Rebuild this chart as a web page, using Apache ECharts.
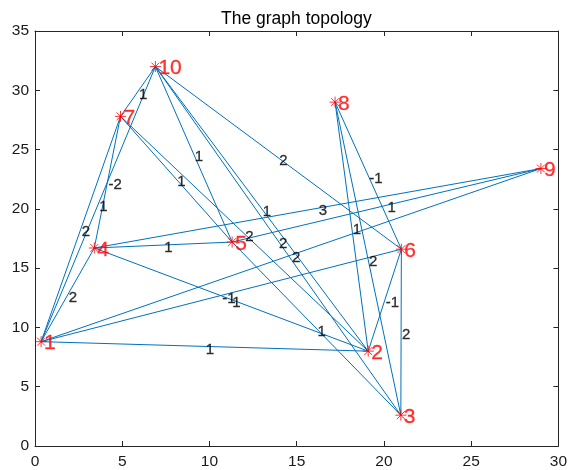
<!DOCTYPE html>
<html><head><meta charset="utf-8">
<script src="https://cdn.jsdelivr.net/npm/echarts@6/dist/echarts.min.js"></script>
<style>html,body{margin:0;padding:0;background:#fff}#c{width:570px;height:470px}</style>
</head><body><div id="c"></div>
<script>
const titleText = 'The graph topology';
const nodeNames = ['1','2','3','4','5','6','7','8','9','10'];
const nodeX = [0.35, 19.1, 20.97, 3.4, 11.3, 21.0, 4.9, 17.2, 29.0, 6.9];
const nodeY = [8.8, 8.0, 2.6, 16.7, 17.2, 16.6, 27.8, 29.0, 23.4, 32.0];
const edgeSource = [1,1,1,1,1,1,2,2,2,2,2,3,3,3,3,4,4,4,5,5,5,6,6,7];
const edgeTarget = [2,4,6,7,9,10,4,6,7,8,10,5,6,8,10,5,7,9,7,9,10,8,10,10];
const edgeWeight = [1,2,-1,2,2,1,1,-1,2,1,1,1,2,2,2,1,-2,3,1,1,1,-1,2,1];
const xTicks = [0,5,10,15,20,25,30];
const yTicks = [0,5,10,15,20,25,30,35];

const FONT = 'Liberation Sans, Arial, Helvetica, sans-serif';
const AX = '#262626';
const star = 'path://M0,-5L0,5M-5,0L5,0M-3.6,-3.6L3.6,3.6M-3.6,3.6L3.6,-3.6';

const edgeLines = edgeSource.map((s, i) => {
  const t = edgeTarget[i];
  return {coords: [[nodeX[s-1], nodeY[s-1]], [nodeX[t-1], nodeY[t-1]]]};
});
const edgeMid = edgeSource.map((s, i) => {
  const t = edgeTarget[i];
  return {value: [(nodeX[s-1] + nodeX[t-1]) / 2, (nodeY[s-1] + nodeY[t-1]) / 2], w: edgeWeight[i]};
});
const nodes = nodeNames.map((n, i) => ({value: [nodeX[i], nodeY[i]], name: n}));

const xStep = xTicks[1] - xTicks[0];
const yStep = yTicks[1] - yTicks[0];
function axisX(pos, showLabel) {
  return {
    type: 'value', position: pos, min: xTicks[0], max: xTicks[xTicks.length-1], interval: xStep,
    axisLine: {show: true, onZero: false, lineStyle: {color: AX, width: 1}},
    axisTick: {show: true, inside: true, length: 5, lineStyle: {color: AX}},
    axisLabel: {show: showLabel, color: '#1a1a1a', fontSize: 15.5, fontFamily: FONT, margin: 8},
    splitLine: {show: false}
  };
}
function axisY(pos, showLabel) {
  return {
    type: 'value', position: pos, min: yTicks[0], max: yTicks[yTicks.length-1], interval: yStep,
    axisLine: {show: true, onZero: false, lineStyle: {color: AX, width: 1}},
    axisTick: {show: true, inside: true, length: 5, lineStyle: {color: AX}},
    axisLabel: {show: showLabel, color: '#1a1a1a', fontSize: 15.5, fontFamily: FONT, margin: 6},
    splitLine: {show: false}
  };
}

const chart = echarts.init(document.getElementById('c'), null, {renderer: 'canvas'});
chart.setOption({
  animation: false,
  backgroundColor: '#ffffff',
  title: {text: titleText, left: 216, top: 5,
    textStyle: {fontSize: 17.5, fontWeight: 'normal', color: '#000', fontFamily: FONT}},
  grid: {left: 35, right: 9, top: 31, bottom: 24, containLabel: false},
  xAxis: [axisX('bottom', true), axisX('top', false)],
  yAxis: [axisY('left', true), axisY('right', false)],
  series: [
    {
      type: 'lines', coordinateSystem: 'cartesian2d', xAxisIndex: 0, yAxisIndex: 0,
      polyline: false, silent: true,
      lineStyle: {color: '#0072BD', width: 1, opacity: 1},
      data: edgeLines, z: 2
    },
    {
      type: 'scatter', xAxisIndex: 0, yAxisIndex: 0, symbol: 'rect', symbolSize: 2, silent: true,
      itemStyle: {color: 'rgba(255,255,255,0)'},
      data: edgeMid, z: 3,
      labelLayout: {hideOverlap: false},
      label: {show: true, position: [2, 4], align: 'left', verticalAlign: 'middle',
        formatter: p => String(p.data.w), color: '#000000', fontSize: 15, fontFamily: FONT,
        textBorderColor: '#000000', textBorderWidth: 0.3}
    },
    {
      type: 'scatter', xAxisIndex: 0, yAxisIndex: 0, symbol: star, symbolSize: 11, silent: true,
      itemStyle: {color: 'rgba(0,0,0,0)', borderColor: '#ff0000', borderWidth: 1},
      data: nodes, z: 4,
      label: {show: true, position: 'inside', align: 'left', verticalAlign: 'middle', offset: [3, 2],
        formatter: p => p.data.name, color: '#ff0000', fontSize: 21, fontFamily: FONT,
        textBorderColor: '#ff0000', textBorderWidth: 0.3}
    }
  ]
});
</script></body></html>
